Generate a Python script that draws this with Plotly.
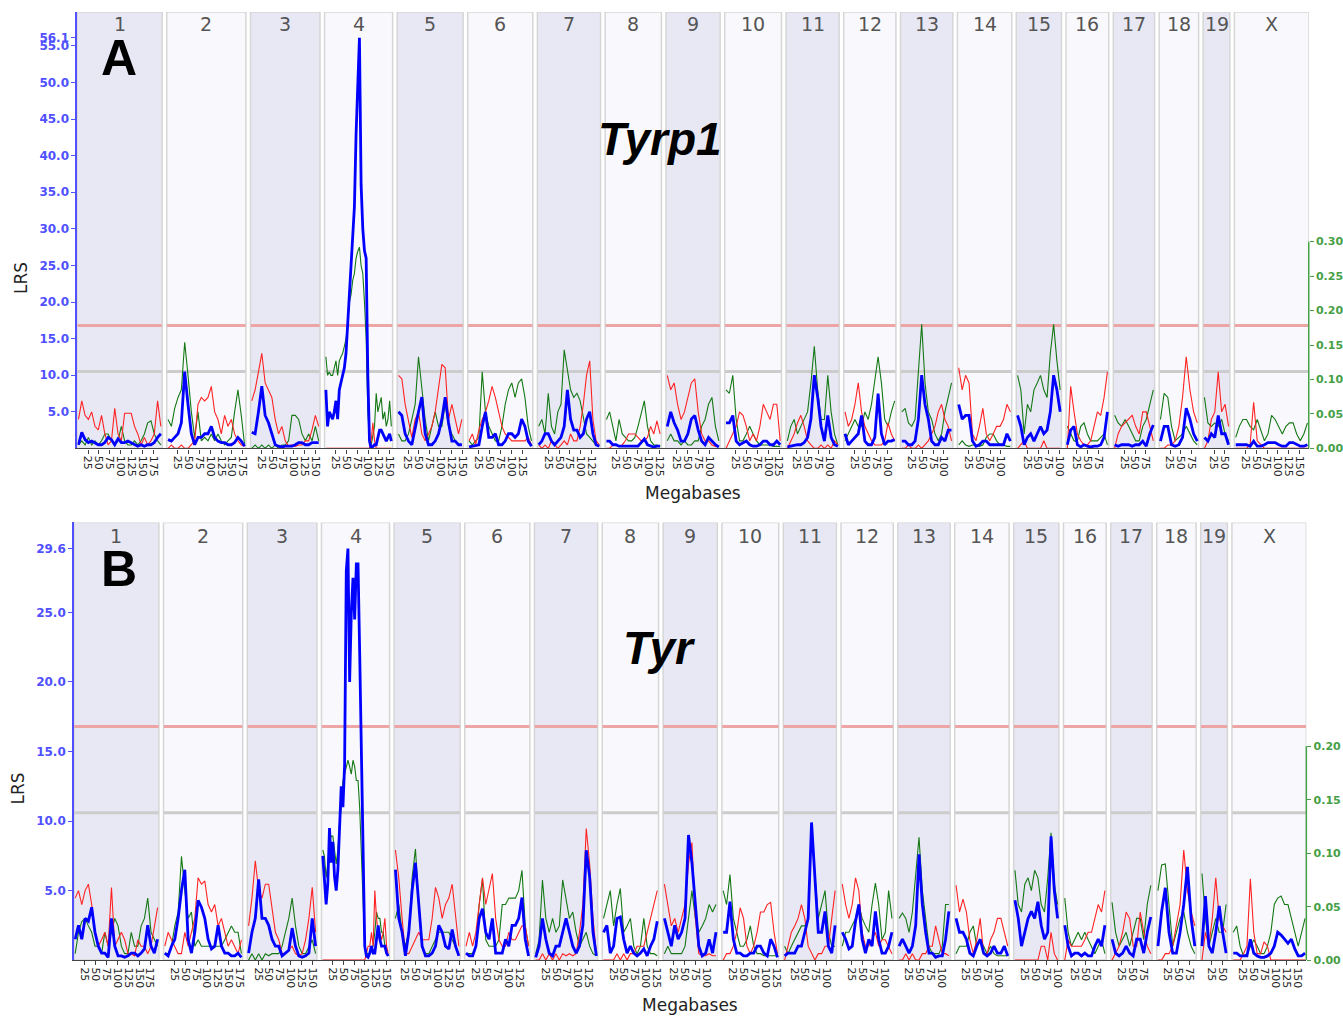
import numpy as np
import plotly.graph_objects as go

# ---------------- data ----------------
CHROMOSOMES = ["1", "2", "3", "4", "5", "6", "7", "8", "9", "10",
               "11", "12", "13", "14", "15", "16", "17", "18", "19", "X"]
CHR_LENGTH_MB = [195.5, 182.1, 160.0, 156.5, 151.8, 149.7, 145.4, 129.4, 124.6, 130.7,
                 122.1, 120.1, 120.4, 124.9, 104.0, 98.2, 95.0, 90.7, 61.4, 171.0]
TICK_MB = [25, 50, 75, 100, 125, 150, 175]

# Panel A (Tyrp1): LRS (blue), additive effect positive (green) / negative (red)
A_LRS = [
    [0.5, 2.2, 1.2, 0.8, 1, 0.8, 0.5, 0.5, 0.8, 1.5, 1.2, 0.5, 1.3, 0.8, 0.8, 1, 0.8, 0.5, 0.3, 0.5, 0.3, 0.5, 0.5, 0.8, 1.5, 2],
    [1.2, 1, 1.5, 2, 3.5, 10.5, 6, 2, 0.5, 1.5, 1.5, 2, 2, 3, 1.5, 1, 0.8, 0.8, 0.5, 0.5, 0.8, 1.5, 1, 0.3],
    [2.2, 2, 5, 8.5, 4.5, 3.5, 2, 0.5, 0.3, 0.2, 0.3, 0.3, 0.3, 0.5, 0.8, 0.8, 0.5, 0.5, 0.8, 0.8, 0.8],
    [8, 3, 5, 4.5, 4, 5, 6.5, 4, 8, 9, 10, 11, 13, 17, 22, 25, 29, 33, 43, 50, 56.1, 36, 30, 27, 26, 10, 1, 0, 0.3, 0.5,
     0.5, 1.5, 2.5, 2.5, 2, 1.5, 1, 1.5, 2, 1],
    [5, 4.5, 2, 1, 0.5, 3, 5, 7, 2, 0.5, 0.5, 1, 2, 4, 7, 3.5, 1, 1, 0.5, 0.5],
    [0.2, 0.3, 0.3, 0.5, 3, 5, 1.5, 1.5, 2, 0.5, 0.5, 1, 2, 2, 1.5, 2, 4, 3, 1, 0.3],
    [0.5, 1, 2, 2, 1, 0.5, 1, 1.5, 3, 8, 4, 2.5, 2.5, 1.5, 2, 4, 5, 2, 0.5, 0.3],
    [1, 1, 0.5, 0.5, 0.3, 0.3, 0.2, 0.2, 0.2, 0.2, 0.3, 0.8, 1.3, 0.5, 0.3, 0.2, 0.3, 0.3],
    [3, 5, 3.5, 2.5, 1, 1, 2, 4, 4.5, 2.5, 1, 0.5, 1.5, 1, 0.5, 0.2],
    [3.5, 3.5, 4.5, 1, 0.5, 0.8, 1, 0.5, 0.3, 0.3, 0.5, 1, 1, 0.5, 0.5, 1, 0.5],
    [0.2, 0.3, 0.5, 0.5, 0.5, 0.8, 1.5, 4, 10, 7, 3, 1, 4.5, 1.5, 0.5, 0.3],
    [2, 0.5, 1, 1.5, 2, 4.5, 1, 0.5, 0.5, 1.5, 7.5, 2, 0.5, 1, 1, 1.2],
    [1, 1, 0.5, 0.5, 1, 4, 10, 6, 4, 1, 0.5, 0.5, 1.5, 1, 2.5, 2.5],
    [6, 4, 4.5, 4.5, 1, 0.3, 0.5, 1, 1, 0.5, 0.5, 0.5, 0.5, 0.5, 2, 1],
    [4.5, 3, 0.5, 1.5, 2, 1, 2, 3, 2, 2.5, 5, 10, 8, 5],
    [0.5, 2.5, 3, 0.5, 0.2, 0.5, 0.3, 0.2, 0.3, 0.3, 0.5, 1.5, 5],
    [0.5, 0.3, 0.5, 0.5, 0.5, 0.3, 0.5, 0.5, 1, 0.3, 2, 3.2],
    [1, 3, 3, 0.5, 0.3, 0.5, 1.5, 5.5, 4, 2, 1],
    [1.5, 1, 2, 1.5, 4.5, 2, 2, 0.5],
    [0.5, 0.5, 0.5, 0.5, 0.3, 1, 0.3, 0.3, 0.5, 0.8, 0.8, 0.8, 0.5, 0.3, 0.3, 0.8, 0.8, 0.5, 0.3, 0.3, 0.5],
]
A_ADD_GREEN = [
    [0.005, 0.011, 0.005, 0.016, 0.005, 0.011, 0.005, 0.011, 0.021, 0.021, 0.011, 0.005, 0.011, 0.032, 0.011, 0.005,
     0.005, 0.011, 0.005, 0.011, 0.021, 0.037, 0.040, 0.021, 0.011, 0.005],
    [0.042, 0.032, 0.058, 0.074, 0.085, 0.154, 0.106, 0.053, 0.016, 0.053, 0.011, 0.016, 0.011, 0.021, 0.011, 0.021,
     0.011, 0.005, 0.011, 0.016, 0.053, 0.085, 0.048, 0.005],
    [0, 0.005, 0, 0.005, 0, 0.005, 0, 0.005, 0, 0.005, 0.005, 0.011, 0.048, 0.048, 0.042, 0.021, 0.011, 0.021, 0.011,
     0.032, 0.011],
    [0.133, 0.106, 0.111, 0.106, 0.106, 0.117, 0.127, 0.106, 0.127, 0.133, 0.138, 0.148, 0.159, 0.180, 0.212, 0.223,
     0.244, 0.254, 0.276, 0.286, 0.292, 0.265, 0.254, 0.212, 0.159, 0.053, 0.011, 0.005, 0.021, 0.032, 0.080, 0.053,
     0.064, 0.074, 0.042, 0.053, 0.032, 0.042, 0.069, 0.032],
    [0.021, 0.011, 0.011, 0.021, 0.042, 0.064, 0.133, 0.085, 0.042, 0.011, 0.032, 0.053, 0.032, 0.032, 0.064, 0.032,
     0.021, 0.011, 0.005, 0.005],
    [0.011, 0.005, 0.011, 0.016, 0.111, 0.053, 0.032, 0.021, 0.011, 0.011, 0.032, 0.064, 0.085, 0.095, 0.074, 0.095,
     0.101, 0.074, 0.032, 0.011],
    [0.032, 0.042, 0.021, 0.080, 0.032, 0.021, 0.053, 0.064, 0.143, 0.117, 0.085, 0.074, 0.080, 0.069, 0.042, 0.021,
     0.016, 0.011, 0.005, 0.003],
    [0.042, 0.053, 0.032, 0.011, 0.042, 0.021, 0.016, 0.011, 0.011, 0.016, 0.032, 0.053, 0.069, 0.032, 0.011, 0.005,
     0.005, 0.003],
    [0.011, 0.021, 0.011, 0.011, 0.005, 0.011, 0.005, 0.005, 0.011, 0.011, 0.032, 0.042, 0.064, 0.074, 0.032, 0.011],
    [0.085, 0.080, 0.106, 0.042, 0.011, 0.011, 0.021, 0.032, 0.021, 0.011, 0.005, 0.005, 0.005, 0.005, 0.003, 0.003,
     0.003],
    [0.011, 0.032, 0.042, 0.021, 0.032, 0.042, 0.053, 0.095, 0.148, 0.085, 0.042, 0.042, 0.106, 0.053, 0.021, 0.005],
    [0.011, 0.021, 0.032, 0.042, 0.032, 0.032, 0.053, 0.042, 0.064, 0.095, 0.133, 0.095, 0.042, 0.032, 0.053, 0.069],
    [0.053, 0.058, 0.037, 0.032, 0.042, 0.106, 0.180, 0.095, 0.053, 0.042, 0.021, 0.011, 0.021, 0.053, 0.074, 0.095],
    [0.005, 0.011, 0.005, 0.003, 0.005, 0.005, 0.003, 0.005, 0.016, 0.021, 0.021, 0.011, 0.005, 0.005, 0.003, 0.003],
    [0.106, 0.085, 0.021, 0.064, 0.053, 0.085, 0.095, 0.106, 0.085, 0.074, 0.138, 0.180, 0.127, 0.085],
    [0.032, 0.021, 0.011, 0.011, 0.032, 0.037, 0.021, 0.011, 0.011, 0.011, 0.016, 0.021, 0.005],
    [0.048, 0.037, 0.032, 0.042, 0.032, 0.021, 0.011, 0.011, 0.032, 0.042, 0.064, 0.085],
    [0.042, 0.080, 0.074, 0.032, 0.011, 0.016, 0.021, 0.032, 0.021, 0.011, 0.005],
    [0.074, 0.037, 0.032, 0.037, 0.032, 0.042, 0.021, 0.011],
    [0.016, 0.032, 0.042, 0.042, 0.032, 0.027, 0.042, 0.027, 0.011, 0.021, 0.048, 0.042, 0.032, 0.021, 0.032, 0.037,
     0.037, 0.021, 0.011, 0.021, 0.037],
]
A_ADD_RED = [
    [0.042, 0.069, 0.048, 0.042, 0.053, 0.032, 0.027, 0.048, 0.021, 0.005, 0.011, 0.058, 0.021, 0.011, 0.051, 0.051,
     0.051, 0.032, 0.021, 0.005, 0.016, 0.005, 0.011, 0.021, 0.069, 0.032],
    [0, 0.005, 0, 0, 0.005, 0, 0, 0.005, 0.011, 0.064, 0.074, 0.069, 0.074, 0.090, 0.053, 0.042, 0.021, 0.048, 0.032,
     0.042, 0.021, 0.011, 0.005, 0.003],
    [0.069, 0.085, 0.111, 0.138, 0.095, 0.085, 0.074, 0.042, 0.021, 0.032, 0.011, 0.003, 0.005, 0.003, 0.005, 0.005,
     0.011, 0.011, 0.027, 0.048, 0.032],
    [0, 0, 0, 0, 0, 0, 0, 0, 0, 0, 0, 0, 0, 0, 0, 0, 0, 0, 0, 0, 0, 0, 0, 0, 0, 0, 0, 0.011, 0.037, 0.011,
     0, 0, 0, 0, 0, 0, 0, 0, 0, 0],
    [0.106, 0.101, 0.064, 0.037, 0.016, 0.042, 0.053, 0.021, 0.011, 0.021, 0.032, 0.053, 0.085, 0.122, 0.117, 0.042,
     0.064, 0.042, 0.021, 0.042],
    [0.011, 0.021, 0.005, 0.027, 0.042, 0.053, 0.069, 0.090, 0.074, 0.053, 0.032, 0.021, 0.016, 0.011, 0.011, 0.011,
     0.011, 0.011, 0.016, 0.005],
    [0.005, 0, 0.005, 0, 0.011, 0.005, 0, 0.005, 0.011, 0.005, 0.021, 0.011, 0.011, 0.032, 0.064, 0.106, 0.127, 0.042,
     0.011, 0.005],
    [0, 0, 0.005, 0.005, 0.003, 0.005, 0.011, 0.021, 0.021, 0.021, 0.016, 0.011, 0.011, 0.016, 0.032, 0.021, 0.040,
     0.021],
    [0.106, 0.085, 0.095, 0.064, 0.042, 0.053, 0.074, 0.095, 0.101, 0.053, 0.021, 0.011, 0.011, 0.005, 0.003, 0.003],
    [0, 0.011, 0.021, 0.032, 0.053, 0.048, 0.032, 0.011, 0.021, 0.011, 0.032, 0.064, 0.053, 0.042, 0.064, 0.064,
     0.011],
    [0, 0.011, 0.021, 0.037, 0.048, 0.032, 0.011, 0.005, 0, 0, 0.005, 0, 0.005, 0, 0.011, 0.005],
    [0.053, 0.032, 0.042, 0.064, 0.095, 0.053, 0.032, 0.021, 0.011, 0.005, 0.005, 0.005, 0.011, 0.037, 0.021, 0.011],
    [0, 0, 0.005, 0, 0, 0.005, 0, 0.005, 0.011, 0.021, 0.032, 0.053, 0.064, 0.042, 0.032, 0.011],
    [0.117, 0.085, 0.106, 0.095, 0.021, 0.011, 0.032, 0.058, 0.021, 0.011, 0.021, 0.032, 0.032, 0.042, 0.064, 0.053],
    [0, 0.005, 0.011, 0, 0, 0, 0, 0, 0.011, 0, 0, 0, 0, 0],
    [0, 0.090, 0.053, 0.021, 0.011, 0.005, 0.005, 0.011, 0.032, 0.053, 0.048, 0.074, 0.111],
    [0, 0.021, 0.032, 0.037, 0.042, 0.048, 0.032, 0.021, 0.053, 0.053, 0.032, 0.011],
    [0, 0, 0.005, 0.005, 0.011, 0.032, 0.074, 0.133, 0.085, 0.053, 0.037],
    [0, 0.011, 0.042, 0.053, 0.111, 0.053, 0.064, 0.032],
    [0, 0, 0, 0, 0.005, 0.067, 0.011, 0.005, 0, 0, 0, 0, 0, 0, 0, 0, 0, 0, 0, 0, 0],
]

# Panel B (Tyr)
B_LRS = [
    [1.5, 2.5, 1.5, 3, 2.8, 3.8, 2, 1, 0.5, 0.5, 0.2, 3, 1, 0.3, 0.3, 0.2, 0.3, 0.5, 0.5, 0.3, 0.5, 0.8, 2.5, 1, 0.5, 1.5],
    [0.5, 0.3, 1, 1.5, 3, 5, 6.5, 1.5, 0.5, 2, 4.3, 3.8, 3, 1.5, 0.8, 1, 2.5, 1, 0.5, 0.5, 0.3, 0.3, 0.5, 0.2],
    [0.5, 2, 3, 5.8, 3, 3, 2.5, 1.5, 1, 1, 0.3, 0.5, 0.7, 2.3, 1, 0.3, 0.2, 0.3, 0.5, 3, 1],
    [7.5, 6, 4, 5.5, 9.5, 7, 8.5, 6, 5, 6.5, 9, 12.5, 11, 14, 28, 29.6, 20, 25, 27.5, 24.5, 28.5, 28.5, 22, 14, 6, 1,
     0.3, 0.2, 0.5, 1, 0.5, 0.5, 1.5, 2.5, 1.5, 1, 1, 1, 0.5, 0.3],
    [6.5, 3, 2, 0.3, 2, 5, 7, 4, 1, 0.3, 0.3, 0.5, 1, 2.5, 2, 1, 0.8, 2.2, 1, 0.3],
    [0.5, 0.3, 0.3, 1, 3, 3.7, 2, 1.5, 3, 0.5, 0.5, 0.5, 1.5, 1, 2.5, 2.5, 3, 4.5, 1.5, 0.3],
    [0.2, 1, 3, 1.5, 0.5, 0.3, 1, 1, 2, 3, 2, 1, 0.5, 1, 2.5, 7.9, 6, 2, 0.3],
    [2, 2.5, 0.5, 1, 3, 3.1, 1.5, 0.5, 1, 0.5, 0.3, 0.5, 0.8, 0.3, 1, 1.5, 2.8],
    [3, 2, 1, 2.5, 1.5, 2, 3, 9, 7, 4, 1, 0.3, 0.5, 1.5, 0.5, 2],
    [2, 2, 4.2, 1.5, 0.5, 0.5, 0.3, 0.3, 0.5, 0.5, 1, 1, 0.5, 0.3, 1.5, 1, 0.2],
    [0.3, 0.5, 0.5, 0.5, 1, 1, 2, 3, 9.9, 6, 2, 2, 3.5, 1, 0.5, 2.5],
    [2, 1.5, 0.8, 1, 2.8, 4, 1.5, 0.5, 1.5, 1, 3.5, 1.5, 0.5, 0.5, 1, 2],
    [1, 1.5, 1, 0.5, 1, 2.5, 7.6, 4, 2, 0.5, 0.5, 0.2, 0.3, 0.3, 1.5, 3.5],
    [3, 2, 2, 1.5, 0.5, 0.3, 1, 1.5, 0.5, 0.3, 0.5, 1, 0.5, 0.5, 1, 0.3],
    [4.3, 3, 1, 2, 3, 3.5, 3, 4.2, 2.5, 1.5, 2, 8.9, 5, 3],
    [2.5, 1, 0.3, 0.5, 0.5, 0.3, 0.5, 0.3, 0.3, 1, 1.5, 1, 2.5],
    [1.5, 0.5, 0.3, 0.5, 1, 0.5, 0.3, 1.5, 1.5, 0.5, 2, 3.1],
    [1, 3.5, 5.2, 2, 0.5, 0.5, 2, 4, 6.7, 3, 1],
    [1, 4.6, 1, 0.5, 2, 3.9, 2, 0.5],
    [0.5, 0.5, 0.3, 0.3, 0.3, 1.5, 0.5, 0.3, 0.2, 0.2, 0.3, 0.5, 1, 2, 1.8, 1.5, 1.2, 1.5, 0.8, 0.3, 0.3, 0.5],
]
B_ADD_GREEN = [
    [0.006, 0.026, 0.036, 0.039, 0.032, 0.026, 0.013, 0.013, 0.006, 0.026, 0.013, 0.026, 0.039, 0.032, 0.013, 0.006,
     0.006, 0.026, 0.013, 0.013, 0.032, 0.039, 0.058, 0.026, 0.019, 0.013],
    [0.006, 0.006, 0.013, 0.032, 0.045, 0.097, 0.065, 0.039, 0.045, 0.013, 0.019, 0.013, 0.013, 0.013, 0.013, 0.013,
     0.013, 0.013, 0.019, 0.026, 0.032, 0.026, 0.026, 0.006],
    [0, 0.006, 0, 0.006, 0, 0.006, 0.004, 0.006, 0.006, 0.006, 0.013, 0.026, 0.039, 0.058, 0.032, 0.013, 0.006, 0.006,
     0.013, 0.019, 0.006],
    [0.103, 0.097, 0.077, 0.090, 0.110, 0.116, 0.116, 0.103, 0.090, 0.103, 0.129, 0.142, 0.168, 0.174, 0.181, 0.187,
     0.181, 0.174, 0.187, 0.181, 0.168, 0.168, 0.142, 0.103, 0.052, 0.013, 0.006, 0.006, 0.006, 0.013, 0.013, 0.026,
     0.045, 0.039, 0.039, 0.026, 0.026, 0.013, 0.006, 0.004],
    [0.039, 0.052, 0.026, 0.013, 0.026, 0.077, 0.104, 0.052, 0.013, 0.006, 0.006, 0.013, 0.019, 0.026, 0.026, 0.026,
     0.026, 0.019, 0.013, 0.006],
    [0.006, 0.006, 0.006, 0.013, 0.052, 0.076, 0.019, 0.013, 0.013, 0.013, 0.019, 0.052, 0.052, 0.058, 0.058, 0.058,
     0.065, 0.084, 0.032, 0.013],
    [0.006, 0.019, 0.075, 0.039, 0.026, 0.039, 0.026, 0.032, 0.075, 0.058, 0.039, 0.045, 0.026, 0.013, 0.019, 0.026,
     0.013, 0.006, 0.004],
    [0.039, 0.052, 0.065, 0.032, 0.052, 0.067, 0.026, 0.032, 0.039, 0.013, 0.006, 0.013, 0.039, 0.013, 0.006, 0.006,
     0.004],
    [0.006, 0.013, 0.006, 0.006, 0.006, 0.006, 0.013, 0.039, 0.065, 0.039, 0.026, 0.032, 0.039, 0.052, 0.045, 0.052],
    [0.065, 0.052, 0.080, 0.039, 0.026, 0.013, 0.013, 0.019, 0.032, 0.013, 0.006, 0.006, 0.004, 0.004, 0.004, 0.004,
     0.004],
    [0.013, 0.006, 0.013, 0.019, 0.026, 0.032, 0.032, 0.039, 0.121, 0.077, 0.039, 0.052, 0.065, 0.026, 0.013, 0.013],
    [0.013, 0.026, 0.026, 0.032, 0.039, 0.052, 0.039, 0.032, 0.026, 0.052, 0.072, 0.052, 0.019, 0.026, 0.065, 0.039],
    [0.039, 0.044, 0.039, 0.026, 0.045, 0.077, 0.115, 0.065, 0.039, 0.013, 0.006, 0.006, 0.006, 0.013, 0.052, 0.052],
    [0.006, 0.013, 0.013, 0.013, 0.026, 0.032, 0.013, 0.019, 0.013, 0.006, 0.013, 0.006, 0.004, 0.004, 0.004, 0.004],
    [0.084, 0.052, 0.045, 0.071, 0.077, 0.065, 0.084, 0.077, 0.052, 0.045, 0.077, 0.119, 0.071, 0.052],
    [0.058, 0.026, 0.013, 0.019, 0.026, 0.019, 0.026, 0.019, 0.013, 0.006, 0.013, 0.019, 0.006],
    [0.054, 0.026, 0.013, 0.019, 0.026, 0.013, 0.026, 0.039, 0.039, 0.019, 0.052, 0.070],
    [0.065, 0.089, 0.090, 0.052, 0.013, 0.026, 0.039, 0.045, 0.026, 0.013, 0.006],
    [0.081, 0.039, 0.013, 0.026, 0.039, 0.026, 0.026, 0.052],
    [0.026, 0.032, 0.013, 0.004, 0.006, 0.013, 0.019, 0.013, 0.006, 0.006, 0.013, 0.026, 0.052, 0.058, 0.060, 0.052,
     0.052, 0.039, 0.026, 0.013, 0.026, 0.039],
]
B_ADD_RED = [
    [0.058, 0.065, 0.052, 0.065, 0.071, 0.052, 0.026, 0.013, 0.019, 0.026, 0.013, 0.068, 0.013, 0.019, 0.026, 0.019,
     0.006, 0.006, 0.004, 0.019, 0.013, 0.013, 0.006, 0.013, 0.032, 0.049],
    [0.013, 0.026, 0.019, 0.013, 0.006, 0.006, 0.026, 0.013, 0.026, 0.039, 0.077, 0.071, 0.074, 0.052, 0.045, 0.052,
     0.032, 0.039, 0.026, 0.013, 0.019, 0.013, 0.006, 0.019],
    [0.032, 0.058, 0.093, 0.065, 0.058, 0.071, 0.071, 0.049, 0.026, 0.019, 0.006, 0.006, 0.010, 0.013, 0.006, 0.004,
     0.006, 0.019, 0.039, 0.068, 0.026],
    [0, 0, 0, 0, 0, 0, 0, 0, 0, 0, 0, 0, 0, 0, 0, 0, 0, 0, 0, 0, 0, 0, 0, 0, 0, 0,
     0.006, 0.013, 0.013, 0.026, 0.013, 0.065, 0.039, 0.026, 0.026, 0.019, 0.026, 0.039, 0.013, 0.006],
    [0.103, 0.077, 0.039, 0.006, 0.006, 0.013, 0.019, 0.026, 0.019, 0.019, 0.019, 0.039, 0.068, 0.058, 0.039, 0.052,
     0.058, 0.071, 0.039, 0.013],
    [0.013, 0.026, 0.013, 0.026, 0.052, 0.077, 0.052, 0.065, 0.081, 0.039, 0.019, 0.013, 0.013, 0.026, 0.019, 0.019,
     0.026, 0.032, 0.032, 0.013],
    [0, 0, 0.006, 0, 0.006, 0, 0.006, 0, 0.006, 0.004, 0.006, 0.004, 0.006, 0.026, 0.052, 0.123, 0.090, 0.039, 0.006],
    [0, 0, 0, 0, 0.006, 0, 0.006, 0, 0.006, 0.006, 0.013, 0.013, 0.013, 0.026, 0.039, 0.052, 0.065],
    [0.071, 0.052, 0.032, 0.039, 0.026, 0.039, 0.052, 0.090, 0.110, 0.039, 0.006, 0.004, 0.004, 0.006, 0.004, 0.004],
    [0, 0.006, 0.006, 0.013, 0.026, 0.049, 0.039, 0.013, 0.006, 0.013, 0.026, 0.045, 0.045, 0.052, 0.054, 0.026,
     0.006],
    [0, 0.013, 0.026, 0.032, 0.039, 0.052, 0.039, 0.013, 0.006, 0, 0.006, 0.006, 0.013, 0.013, 0.039, 0.065],
    [0.071, 0.052, 0.039, 0.052, 0.077, 0.065, 0.026, 0.013, 0.013, 0.019, 0.026, 0.013, 0.019, 0.019, 0.013, 0.006],
    [0, 0, 0.006, 0, 0.006, 0, 0, 0.006, 0.006, 0.013, 0.013, 0.032, 0.019, 0.006, 0.006, 0.004],
    [0.070, 0.045, 0.057, 0.045, 0.019, 0.006, 0.019, 0.039, 0.006, 0.006, 0.019, 0.026, 0.039, 0.039, 0.026, 0.013],
    [0, 0, 0, 0, 0, 0, 0, 0, 0.013, 0.013, 0, 0.026, 0.006, 0],
    [0, 0.019, 0.013, 0.013, 0.013, 0.013, 0.019, 0.026, 0.026, 0.039, 0.052, 0.045, 0.065],
    [0, 0.006, 0.013, 0.026, 0.045, 0.039, 0.013, 0.013, 0.045, 0.026, 0.013, 0.006],
    [0, 0, 0.006, 0.006, 0.013, 0.032, 0.052, 0.103, 0.065, 0.045, 0.032],
    [0, 0.026, 0.013, 0.039, 0.077, 0.039, 0.032, 0.026],
    [0, 0, 0, 0.006, 0.013, 0.076, 0.026, 0.006, 0.006, 0.017, 0.013, 0, 0, 0, 0, 0, 0, 0, 0, 0, 0, 0],
]

A_THRESHOLDS = [10.5, 16.8]      # suggestive, significant
B_THRESHOLDS = [10.6, 16.8]
A_LRS_TICKS = [5.0, 10.0, 15.0, 20.0, 25.0, 30.0, 35.0, 40.0, 45.0, 50.0, 55.0, 56.1]
B_LRS_TICKS = [5.0, 10.0, 15.0, 20.0, 25.0, 29.6]
A_ADD_TICKS = [0.00, 0.05, 0.10, 0.15, 0.20, 0.25, 0.30]
B_ADD_TICKS = [0.00, 0.05, 0.10, 0.15, 0.20]
A_GENE, A_GENE_CHR, A_GENE_MB = "Tyrp1", "4", 80.8
B_GENE, B_GENE_CHR, B_GENE_MB = "Tyr", "7", 87.4

# ---------------- layout constants ----------------
W, H = 1343, 1022          # reference picture size, used to express positions as fractions
GAP_MB = 10.5
offsets = []
acc = 0.0
for L in CHR_LENGTH_MB:
    offsets.append(acc)
    acc += L + GAP_MB
X_TOTAL = offsets[-1] + CHR_LENGTH_MB[-1]


def px_x(v):
    return v / W


def px_y(v):
    return (H - v) / H


PANELS = [
    dict(name="A", gene=A_GENE, gene_chr=A_GENE_CHR, gene_mb=A_GENE_MB,
         lrs=A_LRS, green=A_ADD_GREEN, red=A_ADD_RED, thr=A_THRESHOLDS,
         lrs_ticks=A_LRS_TICKS, add_ticks=A_ADD_TICKS,
         xa="x", y_add="y", y_lrs="y2", xkey="xaxis", addkey="yaxis", lrskey="yaxis2",
         x0=77.3, x1=1310.7, ybot=451.5, ytop=12.0, lrs_px=7.37, add_top_px=243.3,
         add_max=0.30, chr_label_y=24, letter_xy=(119, 58), gene_xy=(661, 140),
         lrs_label_xy=(21, 280), mb_label_y=496, tri_y=-0.88),
    dict(name="B", gene=B_GENE, gene_chr=B_GENE_CHR, gene_mb=B_GENE_MB,
         lrs=B_LRS, green=B_ADD_GREEN, red=B_ADD_RED, thr=B_THRESHOLDS,
         lrs_ticks=B_LRS_TICKS, add_ticks=B_ADD_TICKS,
         xa="x2", y_add="y3", y_lrs="y4", xkey="xaxis2", addkey="yaxis3", lrskey="yaxis4",
         x0=74.0, x1=1308.3, ybot=966.7, ytop=526.0, lrs_px=14.0, add_top_px=751.5,
         add_max=0.20, chr_label_y=540, letter_xy=(119, 573), gene_xy=(660, 652),
         lrs_label_xy=(18, 794), mb_label_y=1012, tri_y=-0.66),
]

BLUE = "rgb(0,0,255)"
RED = "rgb(255,35,35)"
GREEN = "rgb(20,120,20)"
AXIS_BLUE = "rgb(80,80,255)"
AXIS_GREEN = "rgb(70,160,70)"
BOX_ODD = "rgb(232,232,245)"
BOX_EVEN = "rgb(249,249,253)"
BOX_LINE = "rgb(214,214,214)"
SIG_COLOR = "rgba(236,160,160,0.95)"
SUG_COLOR = "rgb(204,204,204)"


def series_xy(values_by_chr):
    xs, ys = [], []
    for off, L, vals in zip(offsets, CHR_LENGTH_MB, values_by_chr):
        pos = np.linspace(3.0, L - 3.0, len(vals))
        xs += list(off + pos) + [None]
        ys += list(vals) + [None]
    return xs, ys


fig = go.Figure()
shapes, annotations = [], []
layout = dict(autosize=True, margin=dict(l=0, r=0, t=0, b=0, pad=0),
              paper_bgcolor="white", plot_bgcolor="white", showlegend=False,
              font=dict(family="DejaVu Sans", color="#222"))

tickvals, ticktext = [], []
for off, L in zip(offsets, CHR_LENGTH_MB):
    for t in TICK_MB:
        if t < L:
            tickvals.append(off + t)
            ticktext.append(str(t))

for p in PANELS:
    lrs_max = (p["ybot"] - p["ytop"]) / p["lrs_px"]
    add_full = p["add_max"] * (p["ybot"] - p["ytop"]) / (p["ybot"] - p["add_top_px"])
    ydom = [px_y(p["ybot"]), px_y(p["ytop"])]
    xdom = [px_x(p["x0"]), px_x(p["x1"])]
    yref = p["y_lrs"]
    xref = p["xa"]

    layout[p["xkey"]] = dict(
        domain=xdom, range=[0, X_TOTAL], anchor=p["y_add"], showgrid=False, zeroline=False,
        showline=True, linecolor="#444", linewidth=1.2, ticks="outside", ticklen=4,
        tickcolor="#444", tickvals=tickvals, ticktext=ticktext, tickangle=90,
        tickfont=dict(size=11, color="#222", family="DejaVu Sans"))
    # additive-effect axis (base, right side); its visible line is drawn as a shape
    layout[p["addkey"]] = dict(
        domain=ydom, range=[0, add_full], anchor=p["xa"], side="right",
        showgrid=False, zeroline=False, showline=False,
        ticks="outside", ticklen=4, tickcolor=AXIS_GREEN, tickwidth=1.2, tickvals=p["add_ticks"],
        ticktext=["%.2f" % v for v in p["add_ticks"]],
        tickfont=dict(size=11, color=AXIS_GREEN, family="DejaVu Sans", weight="bold"))
    # LRS axis (left), overlaying the additive axis so the blue curve is drawn on top
    layout[p["lrskey"]] = dict(
        overlaying=p["y_add"], range=[0, lrs_max], anchor=p["xa"], side="left",
        showgrid=False, zeroline=False,
        showline=True, linecolor=AXIS_BLUE, linewidth=1.5, ticks="outside", ticklen=4,
        tickcolor=AXIS_BLUE, tickvals=p["lrs_ticks"],
        ticktext=["%.1f" % v for v in p["lrs_ticks"]],
        tickfont=dict(size=12, color=AXIS_BLUE, family="DejaVu Sans", weight="bold"))

    shapes.append(dict(type="line", xref="paper", yref=p["y_add"], x0=xdom[1], x1=xdom[1],
                       y0=0, y1=p["add_max"], line=dict(color=AXIS_GREEN, width=1.5)))

    # chromosome boxes, threshold lines, labels
    for i, (c, off, L) in enumerate(zip(CHROMOSOMES, offsets, CHR_LENGTH_MB)):
        shapes.append(dict(type="rect", xref=xref, yref=yref, x0=off, x1=off + L, y0=0, y1=lrs_max,
                           fillcolor=BOX_ODD if i % 2 == 0 else BOX_EVEN,
                           line=dict(color=BOX_LINE, width=1.5), layer="below"))
    for i, (off, L) in enumerate(zip(offsets, CHR_LENGTH_MB)):
        shapes.append(dict(type="line", xref=xref, yref=yref, x0=off + 0.8, x1=off + L - 0.8,
                           y0=p["thr"][1], y1=p["thr"][1], line=dict(color=SIG_COLOR, width=3),
                           layer="below"))
        shapes.append(dict(type="line", xref=xref, yref=yref, x0=off + 0.8, x1=off + L - 0.8,
                           y0=p["thr"][0], y1=p["thr"][0], line=dict(color=SUG_COLOR, width=3),
                           layer="below"))
    for c, off, L in zip(CHROMOSOMES, offsets, CHR_LENGTH_MB):
        annotations.append(dict(text=c, xref=xref, yref="paper", x=off + L / 2,
                                y=px_y(p["chr_label_y"]), showarrow=False, yanchor="middle",
                                font=dict(size=19, color="#555", family="DejaVu Sans")))

    # series
    gx, gy = series_xy(p["green"])
    rx, ry = series_xy(p["red"])
    bx, by = series_xy(p["lrs"])
    fig.add_trace(go.Scatter(x=gx, y=gy, xaxis=p["xa"], yaxis=p["y_add"], mode="lines",
                             line=dict(color=GREEN, width=1.1), hoverinfo="skip"))
    fig.add_trace(go.Scatter(x=rx, y=ry, xaxis=p["xa"], yaxis=p["y_add"], mode="lines",
                             line=dict(color=RED, width=1.1), hoverinfo="skip"))
    fig.add_trace(go.Scatter(x=bx, y=by, xaxis=p["xa"], yaxis=p["y_lrs"], mode="lines",
                             line=dict(color=BLUE, width=2.8), hoverinfo="skip"))

    # gene position marker
    gi = CHROMOSOMES.index(p["gene_chr"])
    fig.add_trace(go.Scatter(x=[offsets[gi] + p["gene_mb"]], y=[p["tri_y"]], xaxis=p["xa"],
                             yaxis=p["y_lrs"], mode="markers", cliponaxis=False, hoverinfo="skip",
                             marker=dict(symbol="triangle-up", size=13, color="rgb(240,240,0)",
                                         line=dict(color="black", width=1))))

    # texts
    annotations.append(dict(text="<b>%s</b>" % p["name"], xref="paper", yref="paper",
                            x=px_x(p["letter_xy"][0]), y=px_y(p["letter_xy"][1]), showarrow=False,
                            xanchor="center", yanchor="middle",
                            font=dict(size=50, color="black", family="Liberation Sans")))
    annotations.append(dict(text="<b><i>%s</i></b>" % p["gene"], xref="paper", yref="paper",
                            x=px_x(p["gene_xy"][0]), y=px_y(p["gene_xy"][1]), showarrow=False,
                            xanchor="center", yanchor="middle",
                            font=dict(size=46, color="black", family="Liberation Sans")))
    annotations.append(dict(text="LRS", xref="paper", yref="paper", textangle=-90,
                            x=px_x(p["lrs_label_xy"][0]), y=px_y(p["lrs_label_xy"][1]),
                            showarrow=False, xanchor="center", yanchor="middle",
                            font=dict(size=17, color="#222", family="DejaVu Sans")))
    annotations.append(dict(text="Megabases", xref="paper", yref="paper",
                            x=(xdom[0] + xdom[1]) / 2, y=px_y(p["mb_label_y"]),
                            showarrow=False, xanchor="center", yanchor="middle",
                            font=dict(size=17, color="#222", family="DejaVu Sans")))

layout["shapes"] = shapes
layout["annotations"] = annotations
fig.update_layout(**layout)
fig.write_html(
    "out.html", config={"displayModeBar": False, "responsive": True},
    default_width="100vw", default_height="100vh",
    post_script=("document.documentElement.style.margin='0';"
                 "document.documentElement.style.overflow='hidden';"
                 "document.body.style.margin='0';"
                 "document.body.style.overflow='hidden';"
                 "var g=document.getElementById('{plot_id}');"
                 "Plotly.Plots.resize(g);"))
